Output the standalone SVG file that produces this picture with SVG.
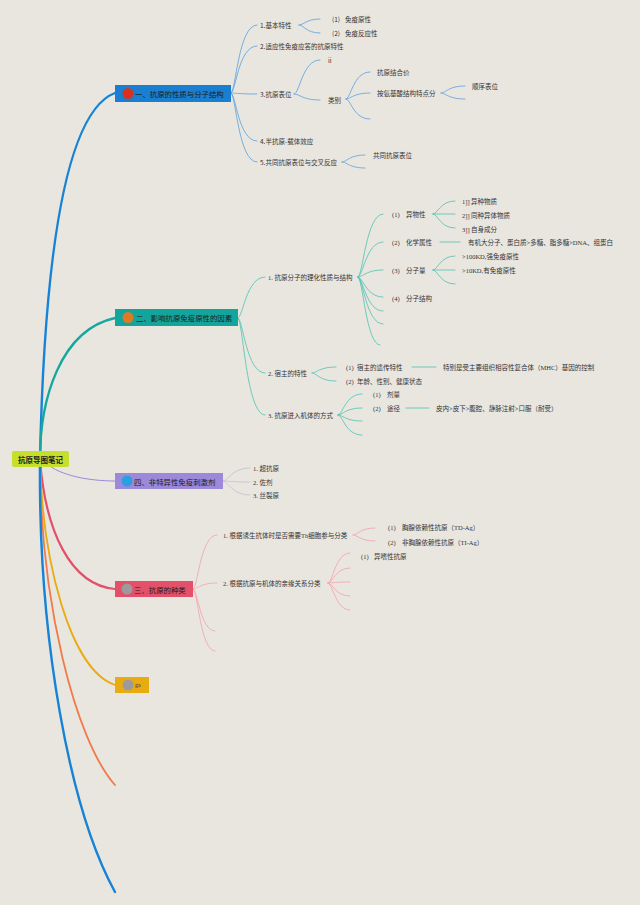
<svg xmlns="http://www.w3.org/2000/svg" width="640" height="905" viewBox="0 0 640 905">
<style>
text{font-family:"Noto Sans CJK SC","Noto Sans",sans-serif;font-size:6.5px;fill:#333;dominant-baseline:central}
.s{font-family:"Liberation Serif","Noto Sans CJK SC",serif}
.t{font-size:7.4px;fill:#1b1b1b}
.r{font-size:7.5px;font-weight:bold;fill:#1b1b1b}
.c{fill:none;stroke-linecap:round}
.b1{stroke:#5a9fdc;stroke-width:0.8}
.b2{stroke:#4cc1b1;stroke-width:0.8}
.b4{stroke:#c4bcd2;stroke-width:0.8}
.b3{stroke:#f0a2ab;stroke-width:0.8}
</style>
<rect width="640" height="905" fill="#e9e6e0"/>
<g id="connectors">
<g class="c">
<path d="M40 459 C45 230 70 110 115 93" stroke="#1683d6" stroke-width="2.4"/>
<path d="M40 459 C40 400 60 330 115 318" stroke="#15a89e" stroke-width="2.4"/>
<path d="M46 463 C60 476 90 481 115 481" stroke="#9a88d8" stroke-width="1"/>
<path d="M40 459 C45 530 70 585 115 589" stroke="#e2506a" stroke-width="2.2"/>
<path d="M40 459 C42 560 70 670 115 685" stroke="#e9ab12" stroke-width="1.8"/>
<path d="M40 459 C40 600 75 740 115 785" stroke="#f07b4a" stroke-width="1.8"/>
<path d="M40 459 C38 640 70 810 115 892" stroke="#1683d6" stroke-width="2.4"/>
</g>
<g class="c b1">
<path d="M231 93 C236 93 238 25 257 25"/>
<path d="M231 93 C236 93 238 46 257 46"/>
<path d="M231 93 C236 93 238 94 257 94"/>
<path d="M231 93 C236 93 238 141 257 141"/>
<path d="M231 93 C236 93 238 162 257 162"/>
<path d="M299 25 C304 25 306 19 320 19"/>
<path d="M299 25 C304 25 306 33 320 33"/>
<path d="M294 94 C300 94 302 60 320 60"/>
<path d="M294 94 C300 94 302 100 320 100"/>
<path d="M346 99 C351 99 353 72 370 72"/>
<path d="M346 99 C351 99 353 93 370 93"/>
<path d="M346 99 C351 99 353 119 370 119"/>
<path d="M441 93 C446 93 448 86 465 86"/>
<path d="M441 93 C446 93 448 99 465 99"/>
<path d="M342 162 C347 162 349 155 365 155"/>
<path d="M342 162 C347 162 349 168 365 168"/>
</g>
<g class="c b2">
<path d="M238 318 C243 318 246 277 265 277"/>
<path d="M238 318 C243 318 246 373 265 373"/>
<path d="M238 318 C243 318 246 415 265 415"/>
<path d="M358 277 C363 277 366 214 383 214"/>
<path d="M358 277 C363 277 366 242 383 242"/>
<path d="M358 277 C363 277 366 270 383 270"/>
<path d="M358 277 C363 277 366 297 383 297"/>
<path d="M358 277 C363 277 366 311 383 311"/>
<path d="M358 277 C363 277 366 324 383 324"/>
<path d="M358 277 C363 277 366 345 380 345"/>
<path d="M433 214 C438 214 440 201 455 201"/>
<path d="M433 214 C438 214 440 214 455 214"/>
<path d="M433 214 C438 214 440 228 455 228"/>
<path d="M440 242 L460 242"/>
<path d="M433 270 C438 270 440 256 455 256"/>
<path d="M433 270 C438 270 440 270 455 270"/>
<path d="M433 270 C438 270 440 284 455 284"/>
<path d="M312 373 C317 373 319 367 336 367"/>
<path d="M312 373 C317 373 319 381 336 381"/>
<path d="M412 367 L436 367"/>
<path d="M338 415 C343 415 345 394 362 394"/>
<path d="M338 415 C343 415 345 408 362 408"/>
<path d="M338 415 C343 415 345 421 362 421"/>
<path d="M338 415 C343 415 345 435 362 435"/>
<path d="M406 408 L429 408"/>
</g>
<g class="c b4">
<path d="M223 481 C228 481 232 468 250 468"/>
<path d="M223 481 C228 481 232 482 250 482"/>
<path d="M223 481 C228 481 232 495 250 495"/>
</g>
<g class="c b3">
<path d="M193 589 C198 589 200 535 217 535"/>
<path d="M193 589 C198 589 200 583 217 583"/>
<path d="M193 589 C198 589 200 631 215 631"/>
<path d="M193 589 C198 589 200 651 215 651"/>
<path d="M353 535 C358 535 360 528 375 528"/>
<path d="M353 535 C358 535 360 541 375 541"/>
<path d="M328 583 C333 583 335 553 350 553"/>
<path d="M328 583 C333 583 335 568 350 568"/>
<path d="M328 583 C333 583 335 582 350 582"/>
<path d="M328 583 C333 583 335 596 350 596"/>
<path d="M328 583 C333 583 335 610 350 610"/>
</g>
</g>
<g id="root">
<rect x="12" y="451" width="57" height="16" rx="2" fill="#c6de2c"/>
<text class="r" x="40.5" y="459" text-anchor="middle">抗原导图笔记</text>
</g>
<g id="branch1">
<rect x="115" y="85" width="116" height="17" fill="#1a7fd0"/>
<circle cx="128" cy="93.5" r="5.5" fill="#d9301f"/>
<text class="t" x="135" y="93.5">一、抗原的性质与分子结构</text>
</g>
<g id="b1-children">
<text x="260" y="25">1.基本特性</text>
<text x="332" y="19">(1)<tspan x="345">免疫原性</tspan></text>
<text x="332" y="33">(2)<tspan x="345">免疫反应性</tspan></text>
<text x="260" y="46">2.适应性免疫应答的抗原特性</text>
<text x="260" y="94">3.抗原表位</text>
<text x="328" y="60">ii</text>
<text x="328" y="100">类别</text>
<text x="377" y="72">抗原结合价</text>
<text x="377" y="93">按氨基酸结构特点分</text>
<text x="472" y="86">顺序表位</text>
<text x="260" y="141">4.半抗原-载体效应</text>
<text x="260" y="162">5.共同抗原表位与交叉反应</text>
<text x="373" y="155">共同抗原表位</text>
</g>
<g id="branch2">
<rect x="115" y="309" width="123" height="17" fill="#13a59c"/>
<circle cx="128" cy="317.5" r="5.5" fill="#e07a22"/>
<text class="t" x="136" y="317.5">二、影响抗原免疫原性的因素</text>
</g>
<g id="b2-children">
<text class="s" x="268" y="277">1. 抗原分子的理化性质与结构</text>
<text class="s" x="392" y="214">(1)<tspan x="406">异物性</tspan></text>
<text class="s" x="462" y="201">1]]<tspan x="471">异种物质</tspan></text>
<text class="s" x="462" y="215">2]]<tspan x="471">同种异体物质</tspan></text>
<text class="s" x="462" y="229">3]]<tspan x="471">自身成分</tspan></text>
<text class="s" x="392" y="242">(2)<tspan x="406">化学属性</tspan></text>
<text class="s" x="468" y="242">有机大分子、蛋白质&gt;多糖、脂多糖&gt;DNA、组蛋白</text>
<text class="s" x="392" y="270">(3)<tspan x="406">分子量</tspan></text>
<text class="s" x="462" y="256">&gt;100KD,强免疫原性</text>
<text class="s" x="462" y="270">&gt;10KD,有免疫原性</text>
<text class="s" x="392" y="298">(4)<tspan x="406">分子结构</tspan></text>
<text class="s" x="268" y="373">2. 宿主的特性</text>
<text class="s" x="346" y="367">(1)<tspan x="357">宿主的遗传特性</tspan></text>
<text class="s" x="443" y="367">特别是受主要组织相容性复合体（MHC）基因的控制</text>
<text class="s" x="346" y="381">(2)<tspan x="357">年龄、性别、健康状态</tspan></text>
<text class="s" x="268" y="415">3. 抗原进入机体的方式</text>
<text class="s" x="373" y="394">(1)<tspan x="387">剂量</tspan></text>
<text class="s" x="373" y="408">(2)<tspan x="387">途径</tspan></text>
<text class="s" x="436" y="408">皮内&gt;皮下&gt;腹腔、静脉注射&gt;口服（耐受）</text>
</g>
<g id="branch4">
<rect x="115" y="473" width="108" height="16" fill="#9c89d9"/>
<circle cx="127" cy="481" r="5.5" fill="#2a9fe2"/>
<text class="t" x="134" y="481">四、非特异性免疫刺激剂</text>
</g>
<g id="b4-children">
<text class="s" x="253" y="468">1. 超抗原</text>
<text class="s" x="253" y="482">2. 佐剂</text>
<text class="s" x="253" y="495">3. 丝裂原</text>
</g>
<g id="branch3">
<rect x="115" y="581" width="78" height="16" fill="#e2506a"/>
<circle cx="127" cy="589" r="5.5" fill="#9c9a9a"/>
<text class="t" x="134" y="589">三、抗原的种类</text>
</g>
<g id="b3-children">
<text class="s" x="223" y="535">1. 根据诱生抗体时是否需要Th细胞参与分类</text>
<text class="s" x="388" y="527">(1)<tspan x="402">胸腺依赖性抗原（TD-Ag）</tspan></text>
<text class="s" x="388" y="542">(2)<tspan x="402">非胸腺依赖性抗原（TI-Ag）</tspan></text>
<text class="s" x="223" y="583">2. 根据抗原与机体的亲缘关系分类</text>
<text class="s" x="361" y="556">(1)<tspan x="374">异嗜性抗原</tspan></text>
</g>
<g id="branch-ga">
<rect x="115" y="677" width="34" height="16" fill="#e9ab12"/>
<circle cx="128" cy="685" r="5.5" fill="#9c9a9a"/>
<text class="s" x="135" y="684.5" style="font-size:6px">ga</text>
</g>
</svg>
